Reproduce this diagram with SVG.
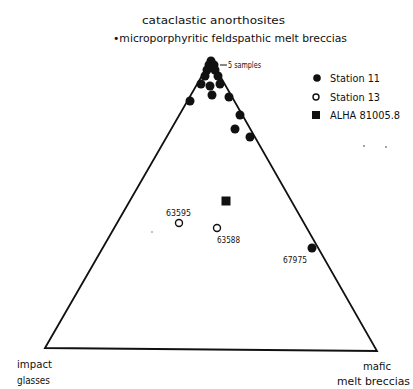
<svg xmlns="http://www.w3.org/2000/svg" width="413" height="389" viewBox="0 0 413 389">
<style>
.t{font-family:"DejaVu Sans Condensed","Liberation Sans Narrow","Liberation Sans",sans-serif;fill:#111;}
.f{fill:#111;}
.o{fill:#fff;stroke:#111;stroke-width:1.4;}
</style>
<rect width="413" height="389" fill="#fff"/>
<g id="triangle">
<path d="M45,348 L211,60 L377,351 Z" fill="none" stroke="#111" stroke-width="1.8" stroke-linejoin="miter"/>
</g>
<g id="titles">
<text class="t" x="142" y="24" font-size="11" textLength="143" lengthAdjust="spacingAndGlyphs">cataclastic anorthosites</text>
<text class="t" x="113" y="42" font-size="11" textLength="234" lengthAdjust="spacingAndGlyphs">•microporphyritic feldspathic  melt breccias</text>
<text class="t" x="17" y="368" font-size="11" textLength="35" lengthAdjust="spacingAndGlyphs">impact</text>
<text class="t" x="17" y="384" font-size="11" textLength="33" lengthAdjust="spacingAndGlyphs">glasses</text>
<text class="t" x="363" y="370" font-size="11" textLength="28" lengthAdjust="spacingAndGlyphs">mafic</text>
<text class="t" x="337" y="385" font-size="11" textLength="73" lengthAdjust="spacingAndGlyphs">melt  breccias</text>
</g>
<g id="station11">
<circle class="f" cx="211" cy="61" r="4.5"/>
<circle class="f" cx="209" cy="65" r="4.5"/>
<circle class="f" cx="214" cy="65" r="4.5"/>
<circle class="f" cx="207" cy="70" r="4.5"/>
<circle class="f" cx="215" cy="70" r="4.5"/>
<circle class="f" cx="205" cy="76" r="4.5"/>
<circle class="f" cx="218" cy="76" r="4.5"/>
<circle class="f" cx="201" cy="84" r="4.5"/>
<circle class="f" cx="210" cy="86" r="4.5"/>
<circle class="f" cx="220" cy="84" r="4.5"/>
<circle class="f" cx="212" cy="95" r="4.5"/>
<circle class="f" cx="190" cy="101" r="4.5"/>
<circle class="f" cx="229" cy="97" r="4.5"/>
<circle class="f" cx="240" cy="115" r="4.5"/>
<circle class="f" cx="235" cy="129" r="4.5"/>
<circle class="f" cx="250" cy="137" r="4.5"/>
<circle class="f" cx="312" cy="248" r="4.5"/>
</g>
<g id="station13">
<circle class="o" cx="179" cy="223" r="3.5"/>
<circle class="o" cx="217" cy="228" r="3.5"/>
</g>
<g id="alha">
<rect class="f" x="221.5" y="196.5" width="9" height="9"/>
</g>
<g id="connectors">
<line x1="220" y1="65" x2="227" y2="65" stroke="#111" stroke-width="1"/>
</g>
<g id="point-labels">
<text class="t" x="228" y="68" font-size="8" textLength="33" lengthAdjust="spacingAndGlyphs">5 samples</text>
<text class="t" x="166" y="216" font-size="9" textLength="25" lengthAdjust="spacingAndGlyphs">63595</text>
<text class="t" x="217" y="243" font-size="9" textLength="23" lengthAdjust="spacingAndGlyphs">63588</text>
<text class="t" x="283" y="263" font-size="9" textLength="24" lengthAdjust="spacingAndGlyphs">67975</text>
</g>
<g id="legend">
<circle class="f" cx="317" cy="78" r="3.8"/>
<text class="t" x="330" y="82" font-size="11" textLength="50" lengthAdjust="spacingAndGlyphs">Station 11</text>
<circle class="o" cx="316" cy="97" r="3"/>
<text class="t" x="330" y="101" font-size="11" textLength="50" lengthAdjust="spacingAndGlyphs">Station 13</text>
<rect class="f" x="312" y="111" width="8" height="8"/>
<text class="t" x="330" y="119" font-size="11" textLength="70" lengthAdjust="spacingAndGlyphs">ALHA 81005.8</text>
</g>
<g id="specks" fill="#777">
<circle cx="152" cy="232" r="0.8"/>
<circle cx="364" cy="146" r="0.9"/>
<circle cx="386" cy="147" r="0.9"/>
</g>
</svg>
